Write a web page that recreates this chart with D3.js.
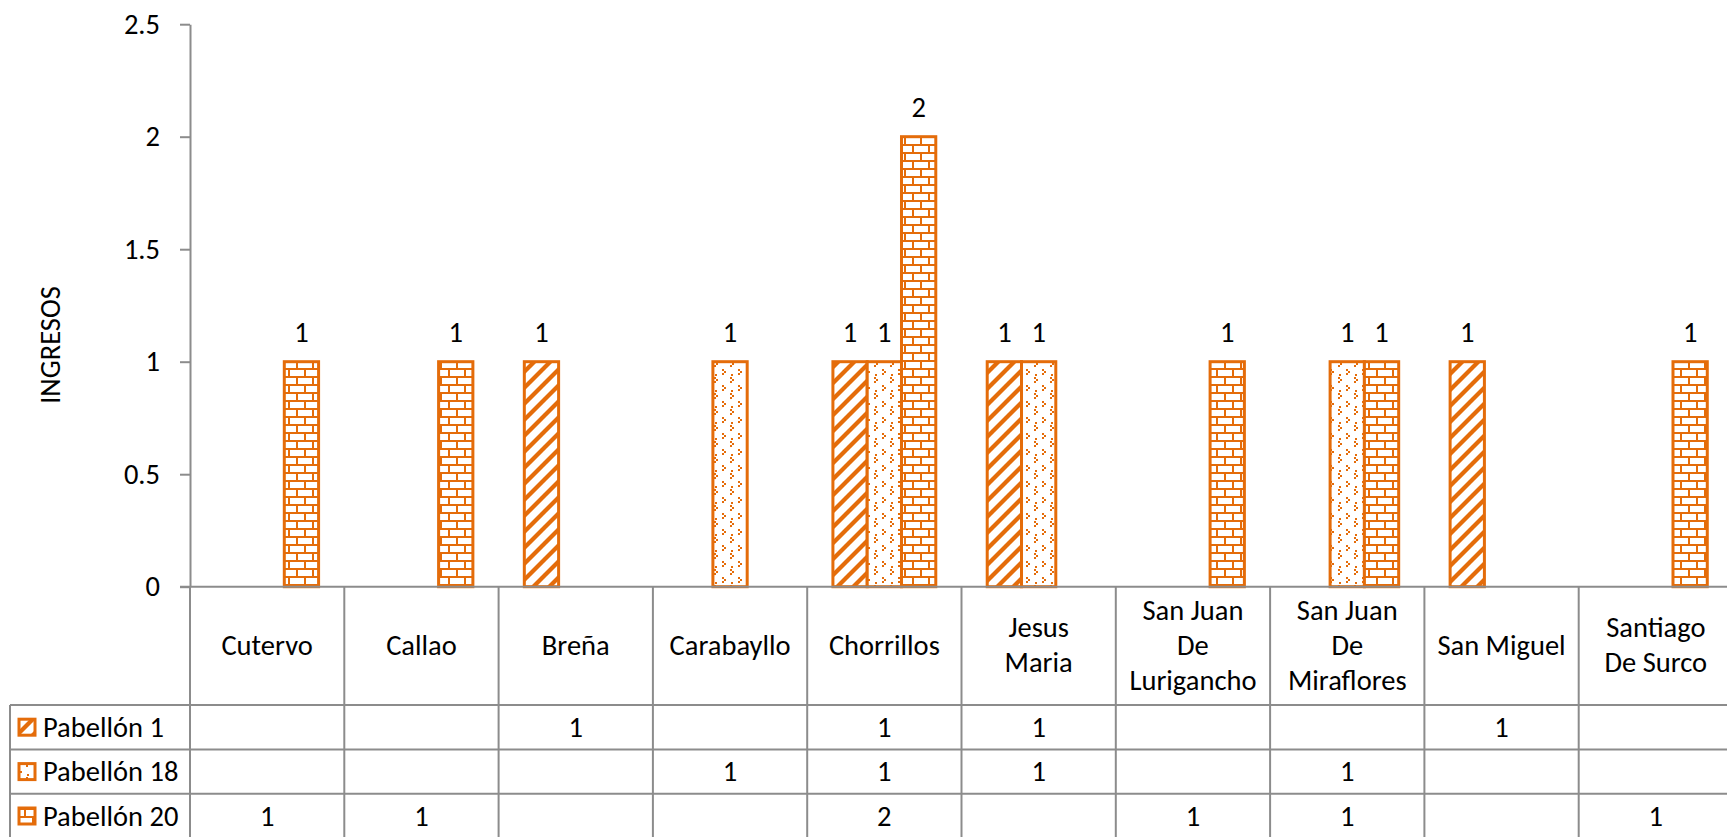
<!DOCTYPE html>
<html>
<head>
<meta charset="utf-8">
<script src="https://cdn.jsdelivr.net/npm/d3@7"></script>
<style>
  html, body { margin: 0; padding: 0; background: #fff; }
  svg { display: block; }
  text { font-family: Carlito, Calibri, Lato, sans-serif; fill: #000; }
</style>
</head>
<body>
<svg id="chart" width="1727" height="837"></svg>
<script>
// ---- data ----
const categories = ["Cutervo", "Callao", "Breña", "Carabayllo", "Chorrillos", "Jesus Maria",
  "San Juan De Lurigancho", "San Juan De Miraflores", "San Miguel", "Santiago De Surco"];
const categoryLines = [["Cutervo"], ["Callao"], ["Breña"], ["Carabayllo"], ["Chorrillos"],
  ["Jesus", "Maria"], ["San Juan", "De", "Lurigancho"], ["San Juan", "De", "Miraflores"],
  ["San Miguel"], ["Santiago", "De Surco"]];
const seriesNames = ["Pabellón 1", "Pabellón 18", "Pabellón 20"];
const pabellon1 = [null, null, 1, null, 1, 1, null, null, 1, null];
const pabellon18 = [null, null, null, 1, 1, 1, null, 1, null, null];
const pabellon20 = [1, 1, null, null, 2, null, 1, 1, null, 1];
const yTicks = [0, 0.5, 1, 1.5, 2, 2.5];
const yTitle = "INGRESOS";

const seriesValues = [pabellon1, pabellon18, pabellon20];
const ORANGE = "#E46C0A";
const GRID = "#8c8c8c";
const FONT = 28.5;

const svg = d3.select("#chart");
const defs = svg.append("defs");

// ---- patterns ----
// wide upward diagonal
const pDiag = defs.append("pattern").attr("id", "pat0").attr("patternUnits", "userSpaceOnUse")
  .attr("width", 16).attr("height", 16);
pDiag.append("rect").attr("width", 16).attr("height", 16).attr("fill", "#fff");
pDiag.append("path").attr("fill", ORANGE)
  .attr("d", "M0,13 L13,0 L16,0 L16,3 L3,16 L0,16 Z M0,0 L3,0 L0,3 Z M16,13 L16,16 L13,16 Z");
// small confetti
const pConf = defs.append("pattern").attr("id", "pat1").attr("patternUnits", "userSpaceOnUse")
  .attr("width", 16).attr("height", 16);
pConf.append("rect").attr("width", 16).attr("height", 16).attr("fill", "#fff");
[[2,1],[4,3],[2,5],[11,6],[10,9],[12,11],[10,13]].forEach(([px, py]) => {
  pConf.append("rect").attr("x", px).attr("y", py).attr("width", 2).attr("height", 2).attr("fill", ORANGE);
});
// horizontal brick
const pBrick = defs.append("pattern").attr("id", "pat2").attr("patternUnits", "userSpaceOnUse")
  .attr("width", 16).attr("height", 16);
pBrick.append("rect").attr("width", 16).attr("height", 16).attr("fill", "#fff");
[[0,0,16,2],[0,8,16,2],[0,0,2,8],[8,8,2,8]].forEach(([x, y, w, h]) => {
  pBrick.append("rect").attr("x", x).attr("y", y).attr("width", w).attr("height", h).attr("fill", ORANGE);
});

// ---- scales ----
const plotLeft = 190, catW = 154.3;
const plotRight = plotLeft + catW * categories.length;
const y0 = 586.7, yTop = 24.2;
const x = d3.scaleBand().domain(categories).range([plotLeft, plotRight]).padding(0);
const gap = catW * 1.5 / 4.5;
const x1 = d3.scaleBand().domain(seriesNames).range([gap / 2, catW - gap / 2]).padding(0);
const y = d3.scaleLinear().domain([0, 2.5]).range([y0, yTop]);

// ---- y axis ----
const yAxis = svg.append("g").attr("transform", `translate(${plotLeft},0)`)
  .call(d3.axisLeft(y).tickValues(yTicks).tickSize(10).tickSizeOuter(0).tickPadding(20)
    .tickFormat(d => String(d)));
yAxis.select(".domain").attr("stroke", GRID).attr("stroke-width", 2);
yAxis.selectAll(".tick line").attr("stroke", GRID).attr("stroke-width", 2);
yAxis.selectAll(".tick text").attr("font-size", FONT).attr("fill", "#000")
  .style("font-family", "Carlito, Calibri, Lato, sans-serif");

svg.append("text").attr("transform", "translate(60,345) rotate(-90)")
  .attr("text-anchor", "middle").attr("font-size", FONT).text(yTitle);

// ---- bars ----
const barG = svg.append("g");
seriesNames.forEach((s, si) => {
  const vals = seriesValues[si];
  const data = categories.map((c, i) => ({ c, v: vals[i] })).filter(d => d.v != null);
  barG.selectAll(null).data(data).enter().append("rect")
    .attr("x", d => x(d.c) + x1(s))
    .attr("y", d => y(d.v))
    .attr("width", x1.bandwidth())
    .attr("height", d => y(0) - y(d.v))
    .attr("fill", `url(#pat${si})`)
    .attr("stroke", ORANGE).attr("stroke-width", 3);
  barG.selectAll(null).data(data).enter().append("text")
    .attr("x", d => x(d.c) + x1(s) + x1.bandwidth() / 2)
    .attr("y", d => y(d.v) - 20)
    .attr("text-anchor", "middle").attr("font-size", FONT)
    .text(d => d.v);
});

// ---- data table ----
const rowTop = 705, rowH = 44.4;
const tableLeft = 10;
const tbl = svg.append("g").attr("stroke", GRID).attr("stroke-width", 2);
tbl.append("line").attr("x1", plotLeft - 10).attr("x2", plotRight).attr("y1", y(0)).attr("y2", y(0));
d3.range(categories.length + 1).forEach(i => {
  const xx = plotLeft + i * catW;
  tbl.append("line").attr("x1", xx).attr("x2", xx).attr("y1", y(0)).attr("y2", rowTop + 3 * rowH + 2);
});
d3.range(4).forEach(r => {
  const yy = rowTop + r * rowH;
  tbl.append("line").attr("x1", tableLeft).attr("x2", plotRight).attr("y1", yy).attr("y2", yy);
});
tbl.append("line").attr("x1", tableLeft).attr("x2", tableLeft).attr("y1", rowTop).attr("y2", rowTop + 3 * rowH + 2);

// category labels
const labelMid = (y(0) + rowTop) / 2, lineH = 35;
categories.forEach((c, i) => {
  const lines = categoryLines[i];
  const t = svg.append("text").attr("text-anchor", "middle").attr("font-size", FONT);
  lines.forEach((ln, li) => {
    t.append("tspan").attr("x", x(c) + catW / 2)
      .attr("y", labelMid + (li - (lines.length - 1) / 2) * lineH + 9)
      .text(ln);
  });
});

// legend rows + values
seriesNames.forEach((s, si) => {
  const cy = rowTop + si * rowH + rowH / 2;
  svg.append("rect").attr("x", 19).attr("y", cy - 8).attr("width", 16).attr("height", 16)
    .attr("fill", `url(#pat${si})`).attr("stroke", ORANGE).attr("stroke-width", 3);
  svg.append("text").attr("x", 43).attr("y", cy + 9.5).attr("font-size", FONT).text(s);
  seriesValues[si].forEach((v, i) => {
    if (v == null) return;
    svg.append("text").attr("x", x(categories[i]) + catW / 2).attr("y", cy + 9.5)
      .attr("text-anchor", "middle").attr("font-size", FONT).text(v);
  });
});
</script>
</body>
</html>
